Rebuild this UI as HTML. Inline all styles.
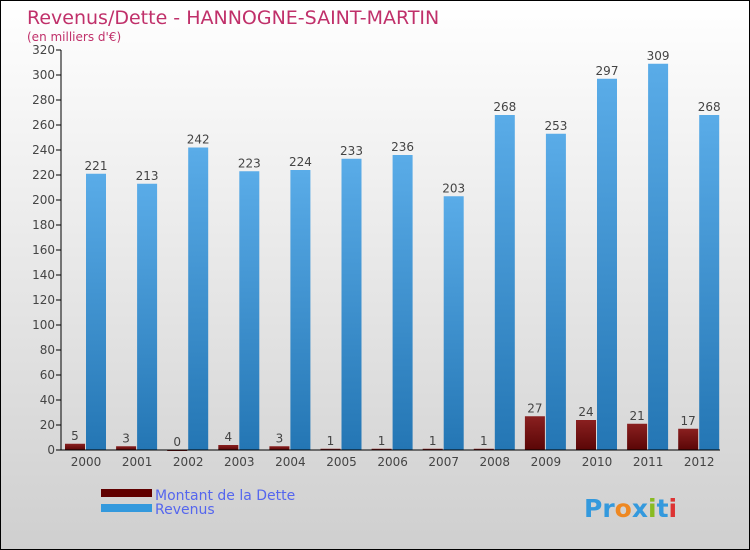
<!DOCTYPE html>
<html><head><meta charset="utf-8"><style>
body{margin:0;}
#c{position:relative;width:748px;height:548px;border:1px solid #000;background:linear-gradient(#ffffff,#cfcfcf);font-family:"DejaVu Sans","Liberation Sans",sans-serif;overflow:hidden}
</style></head><body>
<div id="c">
<svg id="s" width="748" height="548" xmlns="http://www.w3.org/2000/svg">
<defs>
<linearGradient id="gb" x1="0" y1="0" x2="0" y2="1"><stop offset="0" stop-color="#5aace8"/><stop offset="1" stop-color="#2476b4"/></linearGradient>
<linearGradient id="gr" x1="0" y1="0" x2="0" y2="1"><stop offset="0" stop-color="#8a2020"/><stop offset="1" stop-color="#5a0606"/></linearGradient>
</defs>
<text x="26" y="23" font-size="19" fill="#c0306a">Revenus/Dette - HANNOGNE-SAINT-MARTIN</text>
<text x="26" y="40" font-size="12" fill="#c0306a">(en milliers d'€)</text>
<g id="g"></g>
<rect x="100" y="488" width="51" height="8" fill="#600000"/>
<rect x="100" y="503" width="51" height="8" fill="#3399dd"/>
<text x="154" y="499" font-size="14" fill="#5566ee">Montant de la Dette</text>
<text x="154" y="513" font-size="14" fill="#5566ee">Revenus</text>
<text x="583" y="516" font-size="25" font-weight="bold"><tspan fill="#3399dd">Pr</tspan><tspan fill="#ee8822">o</tspan><tspan fill="#3399dd">x</tspan><tspan fill="#88bb22">i</tspan><tspan fill="#3399dd">t</tspan><tspan fill="#dd3333">i</tspan></text>
</svg></div>
<script>
const years=["2000","2001","2002","2003","2004","2005","2006","2007","2008","2009","2010","2011","2012"];
const dette=[5,3,0,4,3,1,1,1,1,27,24,21,17];
const revenus=[221,213,242,223,224,233,236,203,268,253,297,309,268];
const yTicks=[0,20,40,60,80,100,120,140,160,180,200,220,240,260,280,300,320];
const NS="http://www.w3.org/2000/svg",g=document.getElementById('g');
const y0=449,yMax=320,ph=400,x0=60,step=51.1;
const Y=v=>y0-v/yMax*ph;
const X=i=>x0+4+i*step;
function mk(t,a,txt){const e=document.createElementNS(NS,t);for(const k in a)e.setAttribute(k,a[k]);if(txt!==undefined)e.textContent=txt;g.appendChild(e);return e;}
yTicks.forEach(v=>{
 const l=mk('line',{x1:x0-5,x2:x0,y1:Y(v),y2:Y(v),stroke:'#000'});
 
 
 const t=mk('text',{x:x0-6,y:Y(v)+4,'font-size':12,fill:'#444','text-anchor':'end'},v);
 
 
});
years.forEach((yr,i)=>{
 const x=X(i);
 const r=mk('rect',{x:x,y:Y(dette[i]),width:20,height:Math.max(y0-Y(dette[i]),1),fill:'url(#gr)'});
 
 
 const b=mk('rect',{x:x+21,y:Y(revenus[i]),width:20,height:y0-Y(revenus[i]),fill:'url(#gb)'});
 
 
 const t1=mk('text',{x:x+10,y:Y(dette[i])-4,'font-size':12,fill:'#444','text-anchor':'middle'},dette[i]);
 
 
 const t2=mk('text',{x:x+31,y:Y(revenus[i])-4,'font-size':12,fill:'#444','text-anchor':'middle'},revenus[i]);
 
 
 const xl=mk('text',{x:x+21,y:y0+16,'font-size':12,fill:'#444','text-anchor':'middle'},yr);
 
 
});
const ax=mk('line',{x1:x0,x2:x0,y1:Y(320),y2:y0,stroke:'#000'});


const bx=mk('line',{x1:x0,x2:719,y1:y0,y2:y0,stroke:'#000'});


</script>
</body></html>
